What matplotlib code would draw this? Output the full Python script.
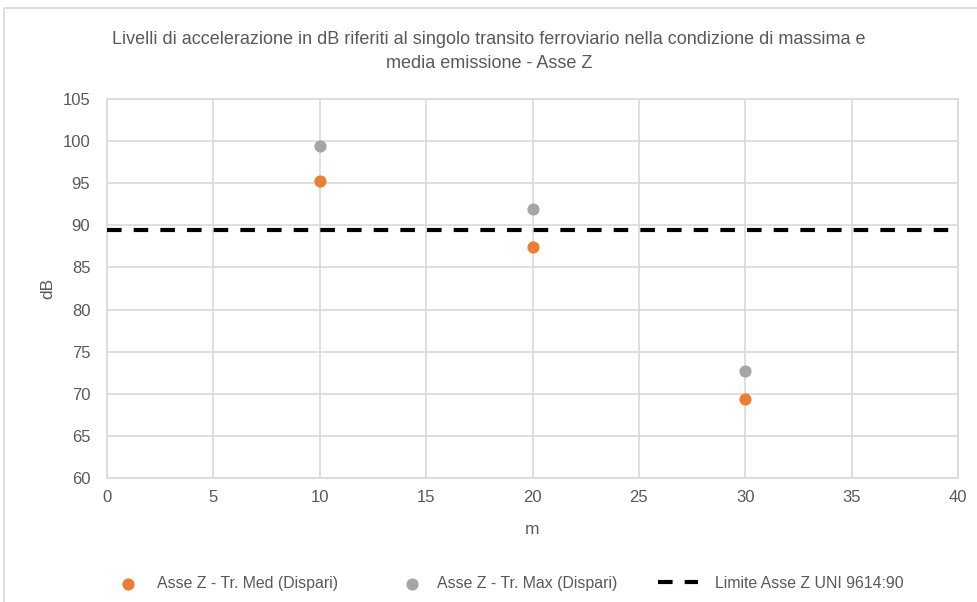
import numpy as np
import matplotlib.pyplot as plt
from matplotlib.patches import Rectangle

plt.rcParams['font.family'] = ['Liberation Sans', 'DejaVu Sans']

# data
distanze = [10, 20, 30]
tr_med = [95.3, 87.4, 69.4]
tr_max = [99.4, 91.9, 72.7]
limite_x = [0, 40]
limite_y = [89.5, 89.5]

txt = '#595959'
fig = plt.figure(figsize=(9.78, 6.02), dpi=100)
ax = fig.add_axes([0.1094, 0.206, 0.8702, 0.6295])

h1 = ax.scatter(distanze, tr_med, s=60, color='#ED7D31', zorder=3, label='Asse Z - Tr. Med (Dispari)')
h2 = ax.scatter(distanze, tr_max, s=60, color='#A5A5A5', zorder=3, label='Asse Z - Tr. Max (Dispari)')
h3, = ax.plot(limite_x, limite_y, color='black', lw=3, dashes=(3.5, 2.9), zorder=4,
              label='Limite Asse Z UNI 9614:90')

ax.set_xlim(0, 40)
ax.set_ylim(60, 105)
ax.set_xticks(np.arange(0, 41, 5))
ax.set_yticks(np.arange(60, 106, 5))
ax.grid(True, color='#d9d9d9', lw=1.2)
ax.set_axisbelow(True)
for s in ax.spines.values():
    s.set_color('#d9d9d9')
    s.set_linewidth(1.2)
ax.tick_params(length=0, labelsize=12, colors=txt)
ax.tick_params(axis='y', pad=12)
ax.tick_params(axis='x', pad=9)

ax.set_xlabel('m', fontsize=12.5, color=txt, labelpad=12)
ax.set_ylabel('dB', fontsize=12.5, color=txt, labelpad=5)
fig.text(0.5, 0.935, 'Livelli di accelerazione in dB riferiti al singolo transito ferroviario nella condizione di massima e',
         ha='center', va='center', fontsize=13, color=txt)
fig.text(0.5, 0.895, 'media emissione - Asse Z', ha='center', va='center', fontsize=13, color=txt)

# legend entries placed one by one (Excel-like spacing)
W = 978.0
for h, x0, hl, tp in [(h1, 112, 2.0, 0.85), (h2, 396, 2.0, 0.6), (h3, 658, 2.53, 1.07)]:
    lg = fig.legend([h], [h.get_label()], loc='center left', bbox_to_anchor=(x0 / W, 0.031),
                    frameon=False, fontsize=11.4, labelcolor=txt, handlelength=hl,
                    handletextpad=tp, borderpad=0, borderaxespad=0)

fig.patches.append(Rectangle((0.004, -0.01), 1.1, 0.997, transform=fig.transFigure,
                             fill=False, edgecolor='#d9d9d9', lw=1.2))

fig.savefig('out.png', dpi=100, facecolor='white')
